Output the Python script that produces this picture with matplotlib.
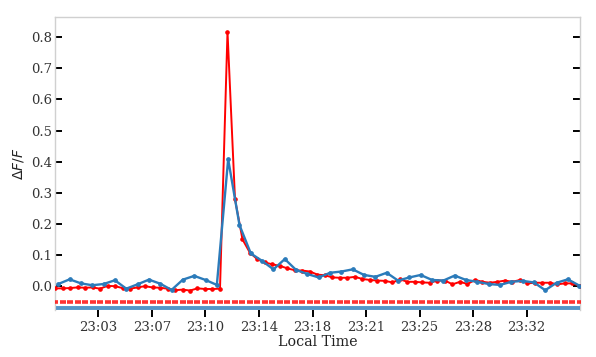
import numpy as np
import matplotlib
matplotlib.use("Agg")
from matplotlib import pyplot as plt

# red series: one sample every 0.5 min from the left edge
red_step = 0.5
red_values = [
    -0.006, -0.006, -0.005, -0.003, -0.004, -0.003, -0.007, 0.002, 0.001, -0.005,
    -0.007, -0.003, 0.001, -0.003, -0.004, -0.007, -0.012, -0.010, -0.013, -0.006,
    -0.008, -0.008, -0.007, 0.817, 0.280, 0.151, 0.108, 0.087, 0.077, 0.071,
    0.066, 0.058, 0.052, 0.051, 0.048, 0.038, 0.036, 0.029, 0.028, 0.028,
    0.031, 0.024, 0.021, 0.019, 0.018, 0.013, 0.023, 0.015, 0.015, 0.013,
    0.012, 0.019, 0.019, 0.007, 0.015, 0.008, 0.021, 0.015, 0.012, 0.015,
    0.019, 0.015, 0.021, 0.010, 0.012, 0.012, 0.012, 0.007, 0.010, 0.010,
    0.002,
]

# blue series: sampled a bit slower
blue_start = 0.22
blue_step = 0.755
blue_values = [
    0.008, 0.023, 0.010, 0.004, 0.008, 0.020, -0.007, 0.007, 0.022, 0.009,
    -0.011, 0.022, 0.034, 0.021, 0.005, 0.408, 0.197, 0.106, 0.082, 0.055,
    0.088, 0.053, 0.040, 0.029, 0.044, 0.048, 0.055, 0.037, 0.031, 0.044,
    0.019, 0.029, 0.037, 0.021, 0.019, 0.035, 0.021, 0.015, 0.008, 0.005,
    0.015, 0.018, 0.013, -0.012, 0.012, 0.023, 0.003,
]

red_flag_level = -0.049
blue_flag_level = -0.068

tick_labels = ["23:03", "23:07", "23:10", "23:14", "23:18", "23:21", "23:25", "23:28", "23:32"]
first_tick = 2.89
tick_step = 3.57

red_color = "#ff0000"
blue_color = "#2b7bba"

red_t = np.arange(len(red_values)) * red_step
blue_t = blue_start + np.arange(len(blue_values)) * blue_step
tick_pos = first_tick + np.arange(len(tick_labels)) * tick_step

plt.rcParams["font.family"] = ["DejaVu Serif"]

fig = plt.figure(figsize=(5.96, 3.57), dpi=100)
ax = fig.add_axes([0.0923, 0.132, 0.8808, 0.82])

ax.plot(red_t, red_values, color=red_color, lw=1.4, marker="o", ms=2.3, zorder=3)
ax.plot(blue_t, blue_values, color=blue_color, lw=1.7, marker="o", ms=2.4, zorder=4)

ax.plot(red_t, np.full(len(red_t), red_flag_level), ls="none", marker="_",
        ms=3.8, mew=2.6, color=red_color, alpha=0.8, zorder=3)
ax.plot(blue_t, np.full(len(blue_t), blue_flag_level), color=blue_color,
        lw=2.8, alpha=0.8, zorder=3)

ax.set_xlim(0, red_t[-1])
ax.set_ylim(-0.075, 0.864)
ax.set_yticks(np.arange(0, 0.81, 0.1))
ax.set_yticklabels([f"{v:.1f}" for v in np.arange(0, 0.81, 0.1)])
ax.set_xticks(tick_pos)
ax.set_xticklabels(tick_labels)

for side in ["top", "left", "right"]:
    ax.spines[side].set_color("#d0d0d0")
    ax.spines[side].set_linewidth(1.0)
ax.spines["bottom"].set_visible(False)

ax.tick_params(axis="y", direction="in", length=5, width=1.4, colors="black",
               labelcolor="#333333", labelsize=9.5, left=True, right=True, pad=2)
ax.tick_params(axis="x", direction="out", length=5, width=1.4, colors="black",
               labelcolor="#333333", labelsize=9.5, pad=3)

ax.set_xlabel("Local Time", fontsize=10.3, color="#222222", labelpad=1)
ax.set_ylabel(r"$\Delta F/F$", fontsize=10, color="#222222", labelpad=4)

fig.savefig("out.png", dpi=100)
